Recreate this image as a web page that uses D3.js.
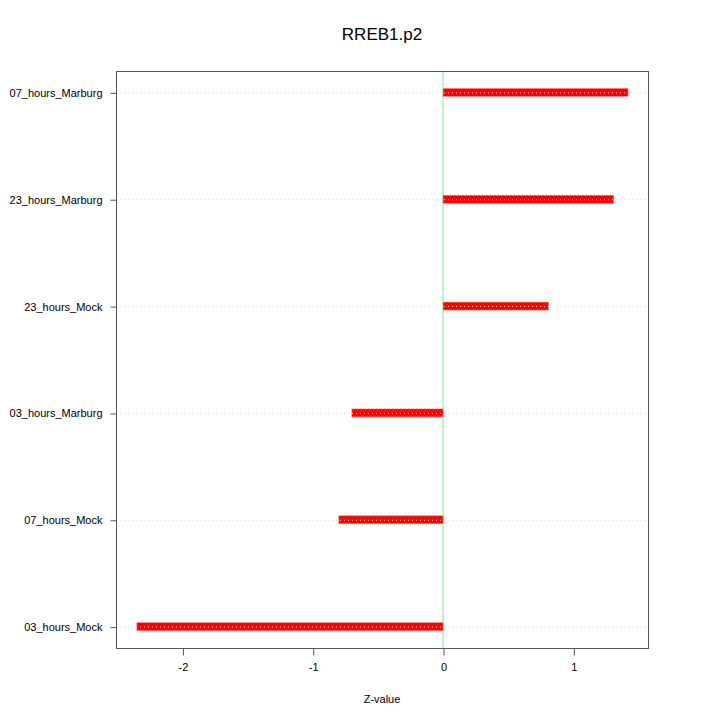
<!DOCTYPE html>
<html>
<head>
<meta charset="utf-8">
<script src="https://cdn.jsdelivr.net/npm/d3@7"></script>
<style>
  body { margin: 0; background: #fff; }
  text { font-family: "Liberation Sans", Arial, sans-serif; fill: #000; }
</style>
</head>
<body>
<svg id="chart" width="720" height="720"></svg>
<script>
// categories bottom to top
const categories = ["03_hours_Mock", "07_hours_Mock", "03_hours_Marburg", "23_hours_Mock", "23_hours_Marburg", "07_hours_Marburg"];
const zValues = [-2.35, -0.80, -0.70, 0.81, 1.31, 1.42];
const xTicks = [-2, -1, 0, 1];
const title = "RREB1.p2";

const width = 720, height = 720;
const plot = { left: 116, right: 648, top: 71, bottom: 648 };

const svg = d3.select("#chart");
svg.append("rect").attr("width", width).attr("height", height).attr("fill", "#fff");

const x = d3.scaleLinear().domain([-2.51, 1.573]).range([plot.left, plot.right]);
const y = d3.scaleLinear().domain([0.8, 6.2]).range([plot.bottom, plot.top]);

const rows = categories.map((c, i) => ({ name: c, value: zValues[i], pos: i + 1 }));

// zero line
svg.append("line")
  .attr("x1", x(0)).attr("x2", x(0))
  .attr("y1", plot.top).attr("y2", plot.bottom)
  .attr("stroke", "#90ee90").attr("stroke-width", 1.2);

// bars
svg.selectAll(".bar").data(rows).enter().append("rect")
  .attr("class", "bar")
  .attr("x", d => Math.min(x(0), x(d.value)))
  .attr("width", d => Math.abs(x(d.value) - x(0)))
  .attr("y", d => y(d.pos) - 4)
  .attr("height", 8)
  .attr("fill", "#ff0000")
  .attr("stroke", "#ff8080").attr("stroke-width", 0.6);

// grid lines (drawn over bars)
svg.selectAll(".grid").data(rows).enter().append("line")
  .attr("class", "grid")
  .attr("x1", plot.left).attr("x2", plot.right)
  .attr("y1", d => y(d.pos) + 0.5).attr("y2", d => y(d.pos) + 0.5)
  .attr("stroke", "#d8d8d8").attr("stroke-width", 1)
  .attr("stroke-dasharray", "1,3");

// frame
svg.append("rect")
  .attr("x", plot.left + 0.5).attr("y", plot.top + 0.5)
  .attr("width", plot.right - plot.left).attr("height", plot.bottom - plot.top)
  .attr("fill", "none").attr("stroke", "#555").attr("stroke-width", 1);

// axes
const xAxis = d3.axisBottom(x).tickValues(xTicks).tickSize(7).tickPadding(8).tickFormat(d => String(d));
const gx = svg.append("g").attr("transform", `translate(0.5,${plot.bottom + 0.5})`).call(xAxis);
gx.select(".domain").remove();
gx.selectAll("line").attr("stroke", "#555");
gx.selectAll("text").style("font-size", "11px");

const yAxis = d3.axisLeft(y).tickValues(rows.map(d => d.pos)).tickSize(6).tickPadding(8)
  .tickFormat((d, i) => categories[i]);
const gy = svg.append("g").attr("transform", `translate(${plot.left + 0.5},0.5)`).call(yAxis);
gy.select(".domain").remove();
gy.selectAll("line").attr("stroke", "#555");
gy.selectAll("text").style("font-size", "11px");

// title and axis label
svg.append("text").attr("x", (plot.left + plot.right) / 2).attr("y", 40)
  .attr("text-anchor", "middle").style("font-size", "17px").text(title);
svg.append("text").attr("x", (plot.left + plot.right) / 2).attr("y", 703)
  .attr("text-anchor", "middle").style("font-size", "11px").text("Z-value");
</script>
</body>
</html>
